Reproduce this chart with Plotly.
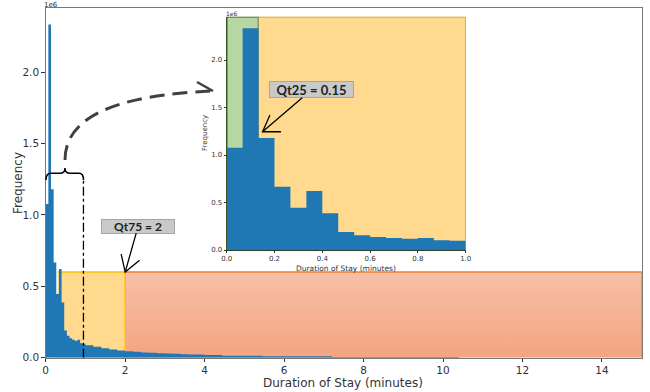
import numpy as np
import plotly.graph_objects as go

# ---------------- data ----------------
# histogram of stay duration, first minute in 1/15-minute bins (values x 1e6)
head_edges = list(np.linspace(0, 1, 16))
head_freq = [1.077, 2.334, 1.18, 0.667, 0.446, 0.621, 0.386, 0.19, 0.154,
             0.137, 0.126, 0.119, 0.126, 0.102, 0.098]
# tail of the histogram (coarser reading of the main panel, values x 1e6)
tail_edges = [1.0, 1.2, 1.4, 1.6, 1.8, 2.0, 2.2, 2.4, 2.6, 2.8, 3.0, 3.2, 3.4,
              3.6, 3.8, 4.0, 4.44, 5.46, 7.21, 10.4]
tail_freq = [0.088, 0.077, 0.067, 0.058, 0.051, 0.045, 0.041, 0.037, 0.034,
             0.031, 0.029, 0.027, 0.025, 0.023, 0.022, 0.019, 0.013, 0.010,
             0.005]
qt25 = 0.15
qt75 = 2
inset_split = 0.133      # green / yellow split drawn in the inset
yellow_left = 0.3
box_top = 0.6e6
x_max = 15
y_max = 2.45e6
inset_y_max = 2.456e6
qt25_tip_y = 1.245e6
y_ticks = [0, 0.5e6, 1.0e6, 1.5e6, 2.0e6]
y_ticktext = ["0.0", "0.5", "1.0", "1.5", "2.0"]
main_xticks = [0, 2, 4, 6, 8, 10, 12, 14]
inset_xticks = [0, 0.2, 0.4, 0.6, 0.8, 1.0]
inset_xticktext = ["0.0", "0.2", "0.4", "0.6", "0.8", "1.0"]

W, H = 650, 392
FONT = "DejaVu Sans"
BLUE = "#1f77b4"


def P(px, py):
    return px / W, 1 - py / H


main_edges = head_edges + tail_edges[1:]
main_vals = [v * 1e6 for v in head_freq + tail_freq]
inset_vals = [v * 1e6 for v in head_freq]

fig = go.Figure()

# ---- main panel regions ----
fig.add_trace(go.Scatter(
    x=[qt75, x_max, x_max, qt75, qt75], y=[0, 0, box_top, box_top, 0],
    mode="none", fill="toself",
    fillgradient=dict(type="vertical",
                      colorscale=[[0, "rgb(244,164,128)"], [1, "rgb(246,192,167)"]]),
    hoverinfo="skip", showlegend=False, xaxis="x", yaxis="y"))
fig.add_trace(go.Scatter(
    x=[yellow_left, qt75, qt75, yellow_left, yellow_left],
    y=[0, 0, box_top, box_top, 0], mode="none", fill="toself",
    fillcolor="#ffd98e", hoverinfo="skip", showlegend=False))
fig.add_trace(go.Scatter(
    x=[qt75, x_max, x_max], y=[box_top, box_top, 0], mode="lines",
    line=dict(color="#ed7d31", width=1.5), cliponaxis=False,
    hoverinfo="skip", showlegend=False))
fig.add_trace(go.Scatter(
    x=[yellow_left, qt75, qt75], y=[box_top, box_top, 0], mode="lines",
    line=dict(color="#ffc000", width=1.5), hoverinfo="skip", showlegend=False))

# main histogram (step outline filled to zero)
fig.add_trace(go.Scatter(
    x=main_edges, y=main_vals + [main_vals[-1]], mode="lines",
    line=dict(shape="hv", width=0, color=BLUE), fill="tozeroy", fillcolor=BLUE,
    showlegend=False, xaxis="x", yaxis="y"))

# ---- inset regions ----
fig.add_trace(go.Scatter(
    x=[0, inset_split, inset_split, 0, 0], y=[0, 0, inset_y_max, inset_y_max, 0],
    mode="lines", fill="toself", fillcolor="#b6d7a1",
    line=dict(color="#375623", width=1.5), cliponaxis=False,
    hoverinfo="skip", showlegend=False, xaxis="x2", yaxis="y2"))
fig.add_trace(go.Scatter(
    x=[inset_split, 1, 1, inset_split], y=[inset_y_max, inset_y_max, 0, 0],
    mode="lines", fill="toself", fillcolor="#ffd98e",
    line=dict(color="#c9a000", width=1.5), cliponaxis=False,
    hoverinfo="skip", showlegend=False, xaxis="x2", yaxis="y2"))
fig.add_trace(go.Scatter(
    x=head_edges, y=inset_vals + [inset_vals[-1]], mode="lines",
    line=dict(shape="hv", width=0, color=BLUE), fill="tozeroy", fillcolor=BLUE,
    showlegend=False, xaxis="x2", yaxis="y2"))

main_dom_x = [45.7 / W, 641.7 / W]
main_dom_y = [1 - 357.7 / H, 1 - 8 / H]
ins_dom_x = [226.7 / W, 465.7 / W]
ins_dom_y = [1 - 250 / H, 1 - 16.7 / H]

axis_common = dict(showgrid=False, zeroline=False, ticks="outside",
                   tickcolor="#333", showline=True, automargin=False)

fig.update_layout(
    template="none",
    width=W, height=H, margin=dict(l=0, r=0, t=0, b=0, autoexpand=False),
    paper_bgcolor="white", plot_bgcolor="white",
    font=dict(family=FONT, color="#333"),
    showlegend=False,
    xaxis=dict(domain=main_dom_x, range=[0, x_max], tickvals=main_xticks,
               ticklen=3.5, tickfont=dict(size=10.5), linecolor="#777",
               ticklabelstandoff=-1,
               mirror=True, anchor="y", **axis_common),
    yaxis=dict(domain=main_dom_y, range=[0, y_max], tickvals=y_ticks,
               ticktext=y_ticktext, ticklen=3.5, tickfont=dict(size=10.5),
               linecolor="#777", mirror=True, anchor="x", **axis_common),
    xaxis2=dict(domain=ins_dom_x, range=[0, 1], tickvals=inset_xticks,
                ticktext=inset_xticktext, ticklen=2, tickfont=dict(size=7),
                linecolor="#2f3f2f", anchor="y2", **axis_common),
    yaxis2=dict(domain=ins_dom_y, range=[0, inset_y_max], tickvals=y_ticks,
                ticktext=y_ticktext, ticklen=2, tickfont=dict(size=7),
                linecolor="#375623", anchor="x2", **axis_common),
)


def label(px, py, text, size, angle=0):
    x, y = P(px, py)
    return dict(x=x, y=y, xref="paper", yref="paper", text=text,
                xanchor="center", yanchor="middle", showarrow=False,
                textangle=angle, font=dict(size=size, color="#333"))


ann = [
    label(343, 383, "Duration of Stay (minutes)", 12),
    label(18, 183, "Frequency", 12, -90),
    label(51, 5, "1e6", 7),
    label(346, 268, "Duration of Stay (minutes)", 7.5),
    label(205, 133, "Frequency", 7, -90),
    label(232, 13, "1e6", 6),
]

# quartile call-outs
ann.append(dict(x=qt75, y=box_top, xref="x", yref="y", text="<b>Qt75 = 2</b>",
                showarrow=True, arrowhead=0, arrowwidth=1.3, arrowcolor="black",
                ax=13, ay=-46, bgcolor="#c9c9c9", bordercolor="#a5a5a5",
                borderwidth=1, borderpad=0, width=72, height=13,
                font=dict(family="Lato", size=12, color="#222")))
ann.append(dict(x=qt25, y=qt25_tip_y, xref="x2", yref="y2", text="<b>Qt25 = 0.15</b>",
                showarrow=True, arrowhead=0, arrowwidth=1.3, arrowcolor="black",
                ax=49, ay=-42, bgcolor="#c9c9c9", bordercolor="#a5a5a5",
                borderwidth=1, borderpad=0, width=83, height=15,
                font=dict(family="Lato", size=13, color="#222")))
fig.update_layout(annotations=ann)

shapes = []
# open arrow heads
shapes.append(dict(type="path", xref="x", yref="y", xsizemode="pixel",
                   ysizemode="pixel", xanchor=qt75, yanchor=box_top,
                   path="M -4,18 L 0,0 L 14.4,11.7",
                   line=dict(color="black", width=1.3)))
shapes.append(dict(type="path", xref="x2", yref="y2", xsizemode="pixel",
                   ysizemode="pixel", xanchor=qt25, yanchor=qt25_tip_y,
                   path="M 7.4,16.7 L 0,0 L 18.4,0",
                   line=dict(color="black", width=1.3)))
# dash-dot marker line at ~1 minute
shapes.append(dict(type="line", xref="x", yref="y", x0=0.95, x1=0.95, y0=0,
                   y1=1.245e6, line=dict(color="black", width=1.3, dash="dashdot")))


def path(cmds):
    out = []
    for c, pts in cmds:
        s = " ".join("%.5f,%.5f" % P(px, py) for px, py in pts)
        out.append(c + " " + s)
    return " ".join(out)


brace = path([("M", [(46, 180)]), ("Q", [(46, 173.3), (51, 173.3)]),
              ("L", [(60, 173.3)]), ("Q", [(65, 173.3), (65, 168)]),
              ("Q", [(65, 173.3), (70, 173.3)]), ("L", [(79, 173.3)]),
              ("Q", [(83.5, 173.3), (83.5, 180)])])
shapes.append(dict(type="path", xref="paper", yref="paper", path=brace,
                   line=dict(color="black", width=1.5)))
curve = path([("M", [(65, 160)]), ("C", [(65, 115), (120, 95), (212, 91)])])
shapes.append(dict(type="path", xref="paper", yref="paper", path=curve,
                   line=dict(color="#404040", width=3, dash="15px,8px")))
head = path([("M", [(197, 82)]), ("L", [(213, 91), (197, 100)])])
shapes.append(dict(type="path", xref="paper", yref="paper", path=head,
                   line=dict(color="#404040", width=2.5)))
fig.update_layout(shapes=shapes)

fig.write_html("out.html", config={"displayModeBar": False},
               post_script="document.body.style.margin='0';")
